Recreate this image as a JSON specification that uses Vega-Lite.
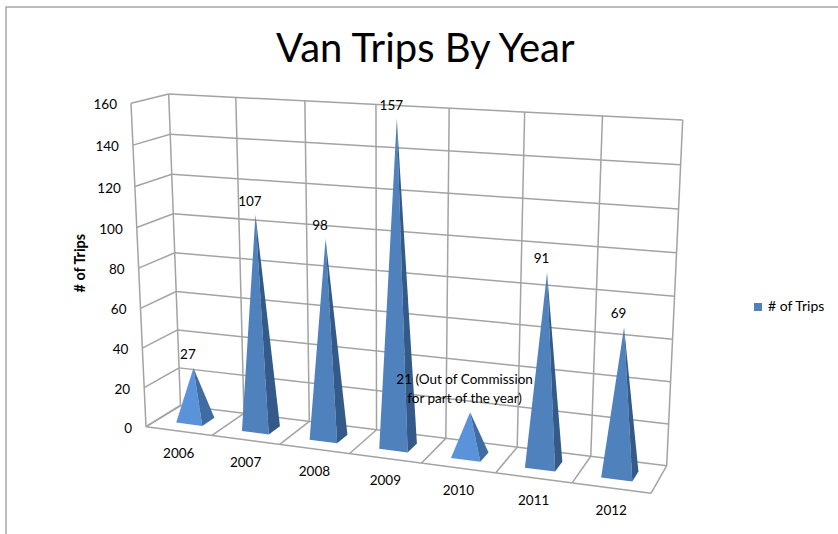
{
  "$schema": "https://vega.github.io/schema/vega-lite/v6.json",
  "title": {"text": "Van Trips By Year", "frame": "group", "anchor": "start", "dx": 270, "offset": -63, "font": "Lato", "fontSize": 40, "fontWeight": "normal", "color": "#000000"},
  "width": 833,
  "height": 528,
  "autosize": "none",
  "padding": {"left": 6, "top": 7, "right": 0, "bottom": 0},
  "background": "#ffffff",
  "view": {"stroke": "#a6a6a6", "strokeWidth": 1.5},
  "data": {"values": [
    {"kind": "bar", "year": 2006, "trips": 27, "label": "27", "series": "# of Trips"},
    {"kind": "bar", "year": 2007, "trips": 107, "label": "107", "series": "# of Trips"},
    {"kind": "bar", "year": 2008, "trips": 98, "label": "98", "series": "# of Trips"},
    {"kind": "bar", "year": 2009, "trips": 157, "label": "157", "series": "# of Trips"},
    {"kind": "bar", "year": 2010, "trips": 21, "label": "21 (Out of Commission\nfor part of the year)", "series": "# of Trips"},
    {"kind": "bar", "year": 2011, "trips": 91, "label": "91", "series": "# of Trips"},
    {"kind": "bar", "year": 2012, "trips": 69, "label": "69", "series": "# of Trips"},
    {"kind": "level", "level": 0},
    {"kind": "level", "level": 20},
    {"kind": "level", "level": 40},
    {"kind": "level", "level": 60},
    {"kind": "level", "level": 80},
    {"kind": "level", "level": 100},
    {"kind": "level", "level": 120},
    {"kind": "level", "level": 140},
    {"kind": "level", "level": 160},
    {"kind": "slot", "slot": 0},
    {"kind": "slot", "slot": 1},
    {"kind": "slot", "slot": 2},
    {"kind": "slot", "slot": 3},
    {"kind": "slot", "slot": 4},
    {"kind": "slot", "slot": 5},
    {"kind": "slot", "slot": 6},
    {"kind": "slot", "slot": 7}
  ]},
  "transform": [
    {"calculate": "datum.kind=='bar' ? datum.year-2006+0.5 : 0", "as": "c"},
    {"calculate": "datum.kind=='bar' ? [['front',0,datum.c-0.2,0,0.315],['front',1,datum.c+0.2,0,0.315],['front',2,datum.c,datum.trips,0.5],['front',3,datum.c-0.2,0,0.315],['side',0,datum.c+0.2,0,0.315],['side',1,datum.c+0.2,0,0.685],['side',2,datum.c,datum.trips,0.5],['side',3,datum.c+0.2,0,0.315],['apex',0,datum.c,datum.trips,0.5],['base',0,datum.c,0,0]] : datum.kind=='level' ? [['gBack',0,0,datum.level,1],['gBack',1,7,datum.level,1],['gLeft',0,0,datum.level,0],['gLeft',1,0,datum.level,1],['tick',0,0,datum.level,0],['gFront',0,0,datum.level,0],['gFront',1,7,datum.level,0]] : [['gWall',0,datum.slot,0,1],['gWall',1,datum.slot,160,1],['gFloor',0,datum.slot,0,0],['gFloor',1,datum.slot,0,1],['gEdge',0,0,0,0],['gEdge',1,0,160,0]]", "as": "verts"},
    {"flatten": ["verts"], "as": ["vert"]},
    {"calculate": "datum.vert[0]", "as": "part"},
    {"calculate": "datum.vert[1]", "as": "seq"},
    {"calculate": "datum.vert[4]", "as": "w"},
    {"calculate": "datum.vert[2]/7/(datum.vert[2]/7+1.11*(1-datum.vert[2]/7))", "as": "t"},
    {"calculate": "(datum.vert[3]/160)/(datum.vert[3]/160+1.04*(1-datum.vert[3]/160))", "as": "h"},
    {"calculate": "(1-datum.w)*((1-datum.h)*((1-datum.t)*146+datum.t*651)+datum.h*((1-datum.t)*131+datum.t*659))+datum.w*((1-datum.h)*((1-datum.t)*180.5+datum.t*666.7)+datum.h*((1-datum.t)*168.7+datum.t*682.7))", "as": "sx"},
    {"calculate": "(1-datum.w)*((1-datum.h)*((1-datum.t)*426.7+datum.t*493.3)+datum.h*((1-datum.t)*103.3+datum.t*135))+datum.w*((1-datum.h)*((1-datum.t)*405.5+datum.t*465.7)+datum.h*((1-datum.t)*94+datum.t*120))", "as": "sy"},
    {"calculate": "datum.part=='apex' && test(/\\n/,datum.label) ? datum.sy-19.5 : datum.sy", "as": "labelY"},
    {"calculate": "datum.kind+'-'+(datum.kind=='bar'?datum.year:datum.kind=='level'?datum.level:datum.slot)+'-'+datum.part", "as": "path"}
  ],
  "encoding": {
    "x": {"field": "sx", "type": "quantitative", "axis": null, "scale": {"domain": [6, 839], "zero": false, "nice": false}},
    "y": {"field": "sy", "type": "quantitative", "axis": null, "scale": {"domain": [535, 7], "zero": false, "nice": false}}
  },
  "layer": [
    {
      "transform": [{"filter": "slice(datum.part,0,1)=='g' && !(datum.part=='gEdge' && datum.slot!=0) && !(datum.part=='gFront' && datum.level!=0)"}],
      "mark": {"type": "line", "stroke": "#a3a3a3", "strokeWidth": 1.5},
      "encoding": {"detail": {"field": "path"}, "order": {"field": "seq"}}
    },
    {
      "transform": [{"filter": "datum.part=='front'"}],
      "mark": {"type": "line", "strokeWidth": 0, "stroke": "transparent"},
      "encoding": {
        "detail": {"field": "path"},
        "order": {"field": "seq"},
        "fill": {
          "condition": {"test": "datum.trips<30", "value": "#5a93d9"},
          "field": "series", "type": "nominal", "scale": {"domain": ["# of Trips"], "range": ["#4f81bd"]},
          "legend": {"title": null, "orient": "none", "legendX": 745, "legendY": 293, "symbolType": "square", "symbolSize": 64, "symbolStrokeWidth": 0, "labelFont": "Lato", "labelFontSize": 14, "labelColor": "#000000", "labelOffset": 3, "padding": 0}
        }
      }
    },
    {
      "transform": [{"filter": "datum.part=='side'"}],
      "mark": {"type": "line", "strokeWidth": 0, "stroke": "transparent"},
      "encoding": {
        "detail": {"field": "path"},
        "order": {"field": "seq"},
        "fill": {"condition": {"test": "datum.trips<30", "value": "#3f6ca3"}, "value": "#335a88"}
      }
    },
    {
      "transform": [{"filter": "datum.part=='apex'"}],
      "mark": {"type": "text", "font": "Lato", "fontSize": 13.5, "color": "#000000", "align": "center", "baseline": "bottom", "dx": -5.5, "dy": -6, "lineBreak": "\n", "lineHeight": 19.5},
      "encoding": {
        "y": {"field": "labelY", "type": "quantitative", "axis": null, "scale": {"domain": [535, 7], "zero": false, "nice": false}},
        "text": {"field": "label"}
      }
    },
    {
      "transform": [{"filter": "datum.part=='base'"}],
      "mark": {"type": "text", "font": "Lato", "fontSize": 13.5, "color": "#000000", "align": "center", "baseline": "middle", "dy": 23},
      "encoding": {"text": {"field": "year"}}
    },
    {
      "transform": [{"filter": "datum.part=='tick'"}],
      "mark": {"type": "text", "font": "Lato", "fontSize": 13.5, "color": "#000000", "align": "right", "baseline": "middle", "dx": -14, "dy": 2},
      "encoding": {"text": {"field": "level"}}
    },
    {
      "transform": [{"filter": "datum.part=='tick' && datum.level==80"}],
      "mark": {"type": "text", "text": "# of Trips", "font": "Lato", "fontSize": 14.4, "fontWeight": "bold", "color": "#000000", "align": "center", "baseline": "middle", "angle": 270, "dx": 5, "dy": -58}
    }
  ]
}
